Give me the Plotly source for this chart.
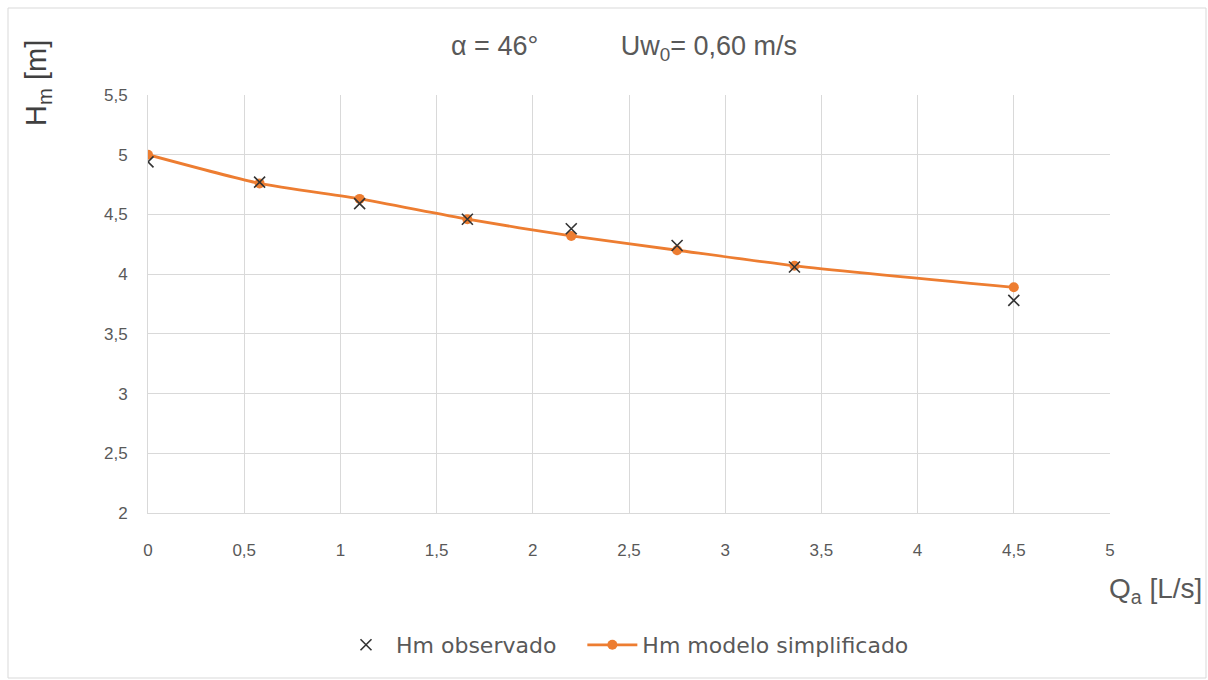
import plotly.graph_objects as go

# Flow rate Qa [L/s]
qa = [0, 0.58, 1.10, 1.66, 2.20, 2.75, 3.36, 4.50]
# Observed head Hm [m]
hm_observado = [4.94, 4.77, 4.59, 4.46, 4.38, 4.24, 4.06, 3.78]
# Simplified-model head Hm [m]
hm_modelo = [5.00, 4.76, 4.63, 4.46, 4.32, 4.20, 4.07, 3.89]

x_ticks = [0, 0.5, 1, 1.5, 2, 2.5, 3, 3.5, 4, 4.5, 5]
y_ticks = [2, 2.5, 3, 3.5, 4, 4.5, 5, 5.5]

ORANGE = "#ED7D31"
GRAY_TXT = "#595959"
FONT = "Liberation Sans"
NB = "\u00a0"

fig = go.Figure()

fig.add_trace(go.Scatter(
    x=qa, y=hm_modelo, name="Hm modelo simplificado",
    mode="lines+markers",
    line=dict(color=ORANGE, width=2.8, shape="spline", smoothing=0.6),
    marker=dict(symbol="circle", size=10, color=ORANGE),
))
fig.add_trace(go.Scatter(
    x=qa, y=hm_observado, name="Hm observado" + NB * 3,
    mode="markers",
    marker=dict(symbol="x-thin", size=11, color="#333333",
                line=dict(color="#333333", width=1.6)),
))

W, H = 1208, 680
L, R, T, B = 148, 98, 95, 167
pw, ph = W - L - R, H - T - B

def px_x(p):
    return (p - L) / pw

def px_y(p):
    return (H - B - p) / ph

axis_common = dict(
    showgrid=True, gridcolor="#d9d9d9", gridwidth=1,
    zeroline=False, showline=True, linecolor="#d9d9d9",
    ticks="outside", tickcolor="rgba(0,0,0,0)",
    tickfont=dict(size=17, color=GRAY_TXT), fixedrange=True,
)

fig.update_layout(
    width=W, height=H,
    margin=dict(l=L, r=R, t=T, b=B),
    paper_bgcolor="white", plot_bgcolor="white",
    separators=",.",
    font=dict(family=FONT, color=GRAY_TXT, size=17),
    showlegend=True,
    legend=dict(orientation="h", x=px_x(625), xanchor="center",
                y=px_y(645), yanchor="middle",
                font=dict(size=22, color=GRAY_TXT, family="DejaVu Sans"),
                traceorder="reversed", itemwidth=50),
    xaxis=dict(range=[0, 5], tickvals=x_ticks,
               ticktext=[f"{v:g}".replace(".", ",") for v in x_ticks],
               ticklen=22, **axis_common),
    yaxis=dict(range=[2, 5.5], tickvals=y_ticks,
               ticktext=[f"{v:g}".replace(".", ",") for v in y_ticks],
               ticklen=16, **axis_common),
    shapes=[dict(type="rect", xref="paper", yref="paper",
                 x0=px_x(8), x1=px_x(1206), y0=px_y(678), y1=px_y(8),
                 line=dict(color="#d9d9d9", width=1), layer="below")],
    annotations=[
        dict(text="α = 46°" + NB * 11 + "Uw<sub>0</sub>= 0,60 m/s",
             xref="paper", yref="paper", x=px_x(624), y=px_y(48),
             xanchor="center", yanchor="middle", showarrow=False,
             font=dict(size=27, color=GRAY_TXT)),
        dict(text="H<sub>m</sub> [m]", textangle=-90,
             xref="paper", yref="paper", x=px_x(38), y=px_y(83),
             xanchor="center", yanchor="middle", showarrow=False,
             font=dict(size=29, color="#404040")),
        dict(text="Q<sub>a</sub> [L/s]",
             xref="paper", yref="paper", x=px_x(1155), y=px_y(590),
             xanchor="center", yanchor="middle", showarrow=False,
             font=dict(size=28, color=GRAY_TXT)),
    ],
)

fig.write_html("out.html")
